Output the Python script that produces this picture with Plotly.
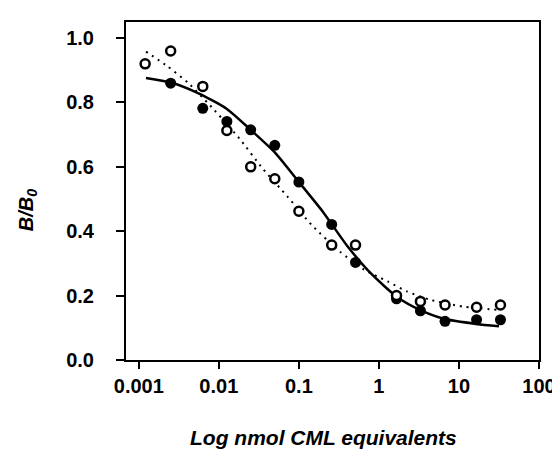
import plotly.graph_objects as go

# Data
open_x = [0.0012, 0.0025, 0.0063, 0.0126, 0.025, 0.05, 0.1, 0.257, 0.51, 1.66, 3.3, 6.7, 16.6, 33]
open_y = [0.92, 0.96, 0.85, 0.713, 0.60, 0.563, 0.462, 0.357, 0.357, 0.20, 0.182, 0.171, 0.164, 0.171]
filled_x = [0.0025, 0.0063, 0.0126, 0.025, 0.05, 0.1, 0.257, 0.51, 1.66, 3.3, 6.7, 16.6, 33]
filled_y = [0.86, 0.782, 0.741, 0.715, 0.667, 0.553, 0.421, 0.303, 0.19, 0.153, 0.12, 0.125, 0.125]

solid_x = [0.00123, 0.0025, 0.0054, 0.0126, 0.025, 0.05, 0.1, 0.2, 0.4, 0.8, 1.7, 3.3, 6.5, 16.6, 31.6]
solid_y = [0.876, 0.862, 0.830, 0.780, 0.715, 0.645, 0.553, 0.460, 0.355, 0.268, 0.195, 0.155, 0.128, 0.112, 0.105]

dotted_x = [0.00123, 0.00229, 0.00417, 0.0089, 0.0182, 0.0355, 0.0724, 0.145, 0.324, 0.63, 1.29, 2.24, 4.37, 11.2, 33.1]
dotted_y = [0.958, 0.912, 0.860, 0.775, 0.687, 0.594, 0.507, 0.419, 0.337, 0.283, 0.244, 0.213, 0.187, 0.166, 0.155]

x_tickvals = [0.001, 0.01, 0.1, 1, 10, 100]
x_ticktext = ["0.001", "0.01", "0.1", "1", "10", "100"]
y_tickvals = [0.0, 0.2, 0.4, 0.6, 0.8, 1.0]
y_ticktext = ["0.0", "0.2", "0.4", "0.6", "0.8", "1.0"]

FONT = "Liberation Sans, Arial, sans-serif"

fig = go.Figure()
fig.add_trace(go.Scatter(x=dotted_x, y=dotted_y, mode="lines",
                         line=dict(color="black", width=2, dash="2px,5px", shape="spline", smoothing=0.6),
                         hoverinfo="skip", showlegend=False))
fig.add_trace(go.Scatter(x=solid_x, y=solid_y, mode="lines",
                         line=dict(color="black", width=2.5, shape="spline", smoothing=0.6),
                         hoverinfo="skip", showlegend=False))
fig.add_trace(go.Scatter(x=filled_x, y=filled_y, mode="markers",
                         marker=dict(symbol="circle", size=11, color="black",
                                     line=dict(color="black", width=0)),
                         showlegend=False))
fig.add_trace(go.Scatter(x=open_x, y=open_y, mode="markers",
                         marker=dict(symbol="circle", size=9, color="white",
                                     line=dict(color="black", width=2.5)),
                         showlegend=False))

fig.update_layout(
    width=560, height=451,
    margin=dict(l=118, r=24, t=13, b=99),
    paper_bgcolor="white", plot_bgcolor="white",
    font=dict(family=FONT, color="black"),
    xaxis=dict(type="log", range=[-3.16, 2], tickvals=x_tickvals, ticktext=x_ticktext,
               ticks="outside", ticklen=7, tickwidth=2, tickcolor="black",
               showline=True, linecolor="black", linewidth=2, mirror=True,
               showgrid=False, zeroline=False,
               tickfont=dict(size=20, family=FONT, weight="bold")),
    yaxis=dict(range=[0, 1.05], tickvals=y_tickvals, ticktext=y_ticktext,
               ticks="outside", ticklen=8, tickwidth=2, tickcolor="black",
               showline=True, linecolor="black", linewidth=2, mirror=True,
               showgrid=False, zeroline=False, ticklabelstandoff=18,
               tickfont=dict(size=20, family=FONT, weight="bold")),
    annotations=[
        dict(text="<b><i>Log nmol CML equivalents</i></b>", xref="paper", yref="paper",
             x=0.477, y=-0.228, xanchor="center", yanchor="middle", showarrow=False,
             font=dict(size=21, family=FONT)),
        dict(text="<b><i>B/B<sub>0</sub></i></b>", xref="paper", yref="paper",
             x=-0.238, y=0.442, xanchor="center", yanchor="middle", showarrow=False,
             textangle=-90, font=dict(size=20, family=FONT)),
    ],
)

fig.write_html("out.html")
